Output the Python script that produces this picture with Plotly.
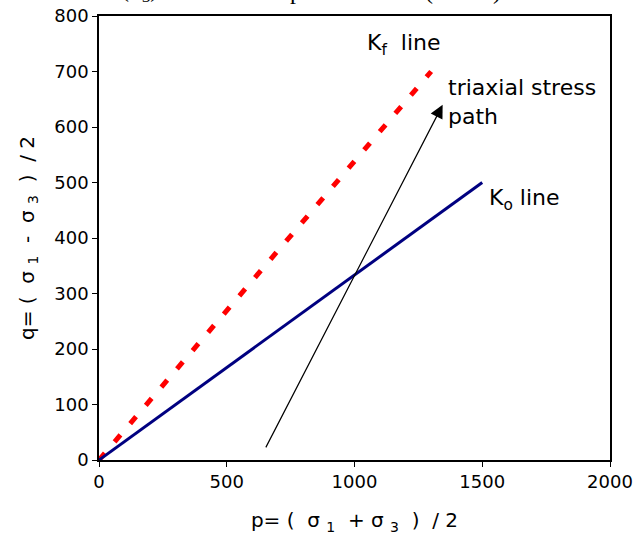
import plotly.graph_objects as go

# Data
ko_p = [0, 1500]
ko_q = [0, 500]
kf_p = [0, 1300]
kf_q = [0, 700]
path_start = (650, 20)
path_end = (1345, 640)

x_ticks = [0, 500, 1000, 1500, 2000]
y_ticks = [0, 100, 200, 300, 400, 500, 600, 700, 800]

font_main = "DejaVu Sans"

fig = go.Figure()
fig.add_trace(go.Scatter(x=kf_p, y=kf_q, mode="lines",
                         line=dict(color="#ff0000", width=5, dash="9px,15px"),
                         showlegend=False, hoverinfo="skip"))
fig.add_trace(go.Scatter(x=ko_p, y=ko_q, mode="lines",
                         line=dict(color="#000080", width=3),
                         showlegend=False, hoverinfo="skip"))

fig.add_annotation(x=path_end[0], y=path_end[1], ax=path_start[0], ay=path_start[1],
                   xref="x", yref="y", axref="x", ayref="y",
                   showarrow=True, arrowhead=2, arrowsize=2.2, arrowwidth=1.2,
                   arrowcolor="black", text="")

fig.add_annotation(x=1040, y=748, text="K<sub>f</sub>  line", showarrow=False,
                   xanchor="left", yanchor="middle",
                   font=dict(family=font_main, size=22, color="black"))
fig.add_annotation(x=1360, y=645, text="triaxial stress<br>path", showarrow=False,
                   xanchor="left", yanchor="middle", align="left",
                   font=dict(family=font_main, size=22, color="black"))
fig.add_annotation(x=1520, y=470, text="K<sub>o</sub> line", showarrow=False,
                   xanchor="left", yanchor="middle",
                   font=dict(family=font_main, size=22, color="black"))

# cut-off title fragments at top (the reference shows only their lower edge)
for xp, t in [(0.04, "(σ<sub>3</sub>)"), (0.385, "p"), (0.79, "(          )")]:
    fig.add_annotation(x=xp, y=1.0, xref="paper", yref="paper", yshift=25,
                       text=t, showarrow=False, yanchor="middle",
                       font=dict(family="Liberation Serif", size=24, color="black"))

axis_common = dict(showgrid=False, zeroline=False, showline=True, linecolor="black",
                   linewidth=1.5, mirror=True, ticks="outside", ticklen=5,
                   tickcolor="black", automargin=False,
                   tickfont=dict(family=font_main, size=18, color="black"))

fig.update_xaxes(range=[0, 2000], tickvals=x_ticks,
                 title=dict(text="p= (  σ <sub>1</sub>  + σ <sub>3</sub>  )  / 2",
                            font=dict(family=font_main, size=20, color="black"), standoff=22),
                 **axis_common)
fig.update_yaxes(range=[0, 800], tickvals=y_ticks,
                 title=dict(text="q= (  σ <sub>1</sub>  -  σ <sub>3</sub>  )  / 2",
                            font=dict(family=font_main, size=20, color="black"), standoff=14),
                 **axis_common)

fig.update_layout(width=636, height=538, margin=dict(l=99, r=26, t=16, b=78),
                  plot_bgcolor="white", paper_bgcolor="white")

fig.write_html("out.html")
